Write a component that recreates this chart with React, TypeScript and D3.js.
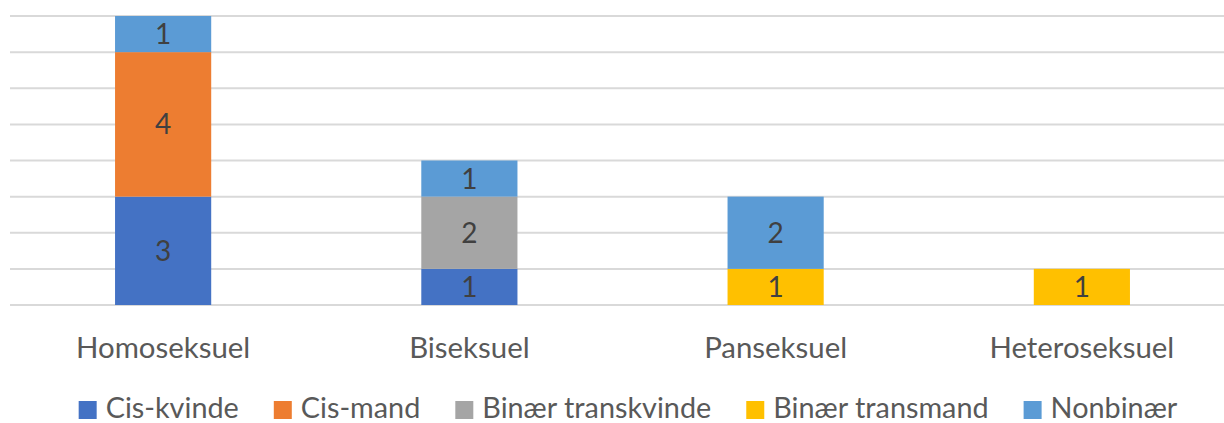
import React, { useEffect, useRef } from "react";
import * as d3 from "d3";

const categories = ["Homoseksuel", "Biseksuel", "Panseksuel", "Heteroseksuel"];
const seriesNames = ["Cis-kvinde", "Cis-mand", "Binær transkvinde", "Binær transmand", "Nonbinær"];
const cisKvinde = [3, 1, 0, 0];
const cisMand = [4, 0, 0, 0];
const binaerTranskvinde = [0, 2, 0, 0];
const binaerTransmand = [0, 0, 1, 1];
const nonbinaer = [1, 1, 2, 0];
const seriesColors = ["#4472C4", "#ED7D31", "#A5A5A5", "#FFC000", "#5B9BD5"];
const yTicks = [0, 1, 2, 3, 4, 5, 6, 7, 8];

const W = 1224;
const H = 423;
const FONT = "Lato, 'Open Sans', sans-serif";

export default function App() {
  const ref = useRef<SVGSVGElement>(null);

  useEffect(() => {
    const svg = d3.select(ref.current);
    svg.selectAll("*").remove();

    const left = 10;
    const right = 1235;
    const top = 16;
    const bottom = 305;

    const rows = categories.map((c, i) => ({
      cat: c,
      [seriesNames[0]]: cisKvinde[i],
      [seriesNames[1]]: cisMand[i],
      [seriesNames[2]]: binaerTranskvinde[i],
      [seriesNames[3]]: binaerTransmand[i],
      [seriesNames[4]]: nonbinaer[i],
    }));

    const x = d3.scaleBand<string>().domain(categories).range([left, right]).paddingInner(0.686).paddingOuter(0.343);
    const y = d3.scaleLinear().domain([0, 8]).range([bottom, top]);

    // gridlines
    svg.append("g")
      .selectAll("line")
      .data(yTicks)
      .join("line")
      .attr("x1", left)
      .attr("x2", right)
      .attr("y1", (d) => y(d))
      .attr("y2", (d) => y(d))
      .attr("stroke", "#D9D9D9")
      .attr("stroke-width", 2);

    const stack = d3.stack<any>().keys(seriesNames);
    const stacked = stack(rows as any);

    stacked.forEach((layer, si) => {
      const g = svg.append("g");
      const segs = layer.filter((d) => d[1] - d[0] > 0);
      g.selectAll("rect")
        .data(segs)
        .join("rect")
        .attr("x", (d: any) => x(d.data.cat)!)
        .attr("width", x.bandwidth())
        .attr("y", (d) => y(d[1]))
        .attr("height", (d) => y(d[0]) - y(d[1]))
        .attr("fill", seriesColors[si]);
      g.selectAll("text")
        .data(segs)
        .join("text")
        .attr("x", (d: any) => x(d.data.cat)! + x.bandwidth() / 2)
        .attr("y", (d) => (y(d[0]) + y(d[1])) / 2)
        .attr("dy", "0.36em")
        .attr("text-anchor", "middle")
        .attr("font-family", FONT)
        .attr("font-size", 28)
        .attr("fill", "#404040")
        .text((d) => String(d[1] - d[0]));
    });

    // category labels
    svg.append("g")
      .selectAll("text")
      .data(categories)
      .join("text")
      .attr("x", (d) => x(d)! + x.bandwidth() / 2)
      .attr("y", 358)
      .attr("text-anchor", "middle")
      .attr("font-family", FONT)
      .attr("font-size", 29.4)
      .attr("fill", "#595959")
      .text((d) => d);

    // legend
    const lg = svg.append("g");
    const sq = 18;
    const gapSqText = 9;
    const gapItems = 35;
    const items = seriesNames.map((n, i) => {
      const gi = lg.append("g");
      gi.append("rect").attr("width", sq).attr("height", sq).attr("y", 401).attr("fill", seriesColors[i]);
      const t = gi.append("text")
        .attr("x", sq + gapSqText)
        .attr("y", 418)
        .attr("font-family", FONT)
        .attr("font-size", 28.8)
        .attr("fill", "#595959")
        .text(n);
      const w = (t.node() as SVGTextElement).getComputedTextLength();
      return { gi, w: sq + gapSqText + w };
    });
    const total = d3.sum(items, (d) => d.w) + gapItems * (items.length - 1);
    let cx = 628 - total / 2;
    items.forEach((it) => {
      it.gi.attr("transform", `translate(${cx},0)`);
      cx += it.w + gapItems;
    });
  }, []);

  return (
    <svg
      ref={ref}
      width={W}
      height={H}
      style={{ position: "fixed", left: 0, top: 0, background: "#fff" }}
    />
  );
}
